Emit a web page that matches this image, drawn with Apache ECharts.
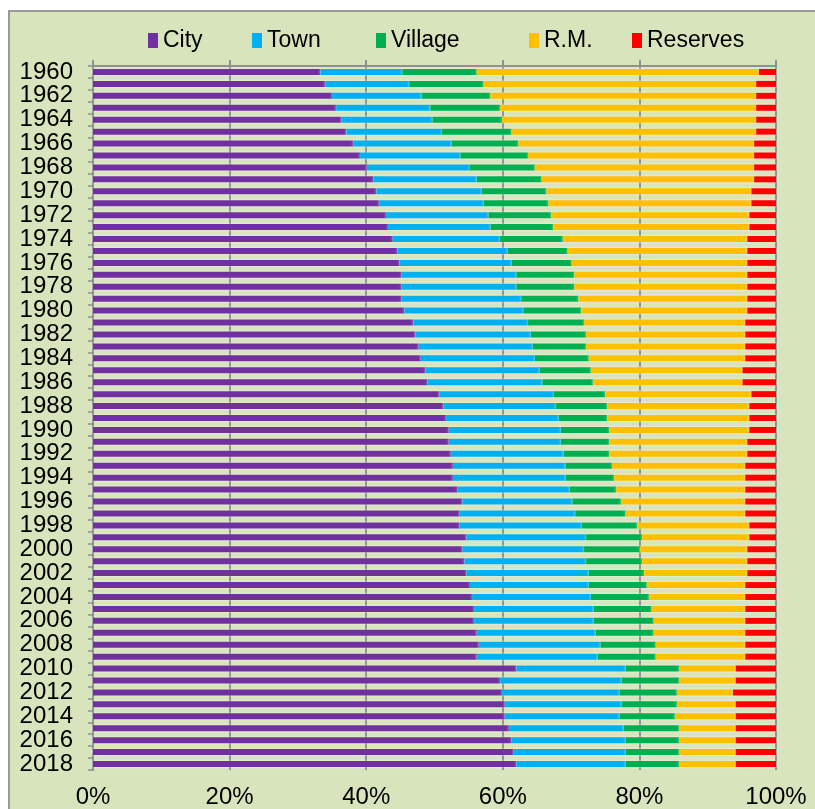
<!DOCTYPE html>
<html>
<head>
<meta charset="utf-8">
<title>Share by municipality type</title>
<script src="https://cdn.jsdelivr.net/npm/echarts@6/dist/echarts.min.js"></script>
<style>
  body { margin: 0; background: #fff; }
  #wrap { position: relative; width: 815px; height: 809px; overflow: hidden; }
  #panel {
    position: absolute; left: 8px; top: 10px; width: 820px; height: 820px;
    background: #d8e4bc; border: 2px solid #9a9a9a;
  }
  #main { position: absolute; left: 0; top: 0; width: 815px; height: 809px; }
</style>
</head>
<body>
<div id="wrap">
  <div id="panel"></div>
  <div id="main"></div>
</div>
<script>
const years = [];
for (let y = 1960; y <= 2018; y++) years.push(String(y));

// percent of total
const city = [33.3, 34.0, 35.0, 35.6, 36.4, 37.1, 38.1, 39.1, 40.1, 41.1,
  41.5, 41.9, 42.9, 43.2, 43.9, 44.6, 44.9, 45.2, 45.2, 45.2,
  45.6, 46.9, 47.2, 47.7, 48.0, 48.7, 49.0, 50.7, 51.3, 51.7,
  52.1, 52.1, 52.4, 52.7, 52.7, 53.4, 54.1, 53.7, 53.7, 54.7,
  54.1, 54.4, 54.7, 55.2, 55.5, 55.8, 55.8, 56.2, 56.5, 56.2,
  62.0, 59.6, 59.9, 60.3, 60.3, 60.9, 61.3, 61.6, 62.0];
const town = [12.0, 12.3, 13.1, 13.8, 13.3, 14.0, 14.4, 14.7, 15.1, 15.1,
  15.4, 15.3, 15.0, 15.0, 15.7, 16.1, 16.4, 16.8, 16.8, 17.5,
  17.4, 16.8, 16.9, 16.7, 16.7, 16.7, 16.8, 16.8, 16.5, 16.5,
  16.4, 16.4, 16.5, 16.5, 16.5, 16.4, 16.1, 16.9, 17.9, 17.5,
  17.8, 17.8, 17.9, 17.4, 17.4, 17.5, 17.5, 17.4, 17.8, 17.7,
  16.0, 17.8, 17.2, 17.1, 16.8, 16.8, 16.7, 16.4, 16.0];
const village = [10.9, 10.9, 10.1, 10.2, 10.2, 10.2, 9.8, 9.9, 9.5, 9.5,
  9.5, 9.5, 9.2, 9.2, 9.2, 8.8, 8.8, 8.5, 8.5, 8.4,
  8.5, 8.2, 8.1, 7.8, 7.9, 7.5, 7.4, 7.5, 7.5, 7.1,
  7.1, 7.1, 6.7, 6.8, 7.1, 6.8, 7.1, 7.4, 8.1, 8.2,
  8.2, 8.2, 8.1, 8.5, 8.5, 8.5, 8.8, 8.5, 8.1, 8.5,
  7.8, 8.4, 8.4, 8.1, 8.1, 8.1, 7.8, 7.8, 7.8];
const rm = [41.3, 39.9, 38.9, 37.5, 37.2, 35.8, 34.5, 33.1, 32.1, 31.1,
  30.0, 29.7, 29.0, 28.7, 27.0, 26.3, 25.7, 25.3, 25.3, 24.7,
  24.3, 23.6, 23.3, 23.3, 22.9, 22.2, 21.9, 21.4, 20.8, 20.8,
  20.5, 20.2, 20.2, 19.5, 19.2, 18.9, 18.2, 17.5, 16.4, 15.7,
  15.7, 15.4, 15.1, 14.4, 14.1, 13.7, 13.4, 13.4, 13.1, 13.1,
  8.3, 8.3, 8.2, 8.6, 8.9, 8.3, 8.3, 8.3, 8.3];
const reserves = [2.5, 2.9, 2.9, 2.9, 2.9, 2.9, 3.2, 3.2, 3.2, 3.2,
  3.6, 3.6, 3.9, 3.9, 4.2, 4.2, 4.2, 4.2, 4.2, 4.2,
  4.2, 4.5, 4.5, 4.5, 4.5, 4.9, 4.9, 3.6, 3.9, 3.9,
  3.9, 4.2, 4.2, 4.5, 4.5, 4.5, 4.5, 4.5, 3.9, 3.9,
  4.2, 4.2, 4.2, 4.5, 4.5, 4.5, 4.5, 4.5, 4.5, 4.5,
  5.9, 5.9, 6.3, 5.9, 5.9, 5.9, 5.9, 5.9, 5.9];

const seriesNames = ['City', 'Town', 'Village', 'R.M.', 'Reserves'];
const seriesData = [city, town, village, rm, reserves];
const colors = ['#7030a0', '#00b0f0', '#00b050', '#ffc000', '#ff0000'];
const legendLeft = [143, 247, 371, 524, 627];

const font = 'Liberation Sans, Arial, sans-serif';
const gridColor = '#8f8f8f';

let chart = echarts.init(document.getElementById('main'));

let option = {
  backgroundColor: 'transparent',
  color: colors,
  animation: false,
  legend: seriesNames.map((n, i) => ({
    data: [n],
    left: legendLeft[i],
    top: 24,
    icon: 'rect',
    itemWidth: 10,
    itemHeight: 15,
    textStyle: { fontFamily: font, fontSize: 23, color: '#000' }
  })),
  grid: { left: 93, right: 39, top: 66, bottom: 38 },
  xAxis: [
    {
      type: 'value', min: 0, max: 100, interval: 20,
      axisLine: { show: false },
      axisTick: { show: false },
      axisLabel: { formatter: '{value}%', fontFamily: font, fontSize: 24, color: '#000', margin: 15 },
      splitLine: { show: true, lineStyle: { color: gridColor, width: 2 } }
    },
    {
      type: 'value', position: 'top', min: 0, max: 100, interval: 20,
      axisLine: { show: true, lineStyle: { color: gridColor, width: 2 } },
      axisTick: { show: true, length: 6, lineStyle: { color: gridColor, width: 2 } },
      axisLabel: { show: false },
      splitLine: { show: false }
    }
  ],
  yAxis: {
    type: 'category', data: years, inverse: true,
    axisLine: { show: true, lineStyle: { color: gridColor, width: 2 } },
    axisTick: { show: true, interval: 0, length: 5, lineStyle: { color: gridColor, width: 1.5 } },
    axisLabel: { interval: 1, fontFamily: font, fontSize: 24, color: '#000', margin: 20 }
  },
  series: seriesNames.map((n, i) => ({
    name: n,
    type: 'bar',
    stack: 'total',
    barWidth: 6,
    data: seriesData[i],
    itemStyle: {
      shadowColor: 'rgba(255,255,255,0.7)',
      shadowBlur: 3
    }
  }))
};

option && chart.setOption(option);
</script>
</body>
</html>
